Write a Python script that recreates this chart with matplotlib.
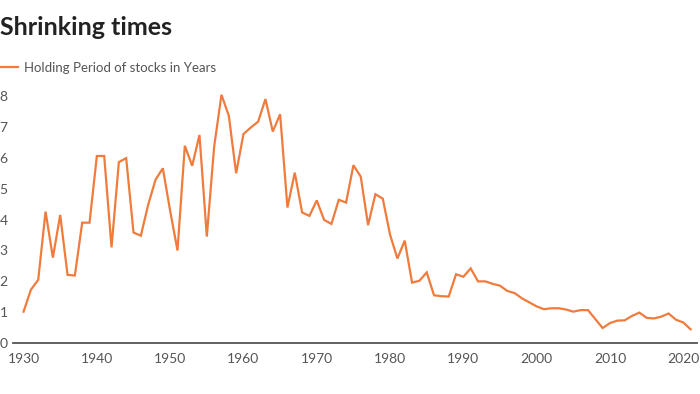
import matplotlib
matplotlib.use('Agg')
import matplotlib.pyplot as plt
from matplotlib.lines import Line2D

# Holding period of stocks, years
years = list(range(1930, 2022))
holding_years = [
    1.02, 1.73, 2.05, 4.26, 2.77, 4.15, 2.21, 2.19, 3.90, 3.90,   # 1930s
    6.06, 6.06, 3.10, 5.86, 5.99, 3.58, 3.48, 4.48, 5.29, 5.66,   # 1940s
    4.28, 3.00, 6.39, 5.74, 6.74, 3.45, 6.36, 8.04, 7.36, 5.50,   # 1950s
    6.77, 6.98, 7.17, 7.90, 6.85, 7.41, 4.39, 5.52, 4.23, 4.12,   # 1960s
    4.62, 3.99, 3.86, 4.64, 4.55, 5.76, 5.39, 3.82, 4.82, 4.68,   # 1970s
    3.51, 2.74, 3.32, 1.96, 2.02, 2.29, 1.55, 1.52, 1.51, 2.23,   # 1980s
    2.15, 2.42, 2.00, 2.00, 1.92, 1.86, 1.69, 1.62, 1.45, 1.32,   # 1990s
    1.19, 1.10, 1.13, 1.13, 1.09, 1.02, 1.07, 1.07, 0.78, 0.49,   # 2000s
    0.65, 0.73, 0.74, 0.88, 0.99, 0.82, 0.80, 0.86, 0.96, 0.76,   # 2010s
    0.67, 0.45,                                                   # 2020s
]
series_label = 'Holding Period of stocks in Years'
title = 'Shrinking times'
x_ticks = [1930, 1940, 1950, 1960, 1970, 1980, 1990, 2000, 2010, 2020]
y_ticks = [0, 1, 2, 3, 4, 5, 6, 7, 8]

line_color = '#ef7b3d'
text_color = '#555555'

plt.rcParams['font.family'] = ['Lato', 'DejaVu Sans']

fig = plt.figure(figsize=(7.0, 3.94), dpi=100)
ax = fig.add_axes([0.019, 0.129, 0.977, 0.643])

ax.plot(years, holding_years, color=line_color, linewidth=1.6,
        solid_joinstyle='miter')

ax.set_xlim(1928.6, 2021.9)
ax.set_ylim(0, 8.2)
ax.set_xticks(x_ticks)
ax.set_yticks(y_ticks)
ax.tick_params(axis='both', length=0, labelsize=10, labelcolor=text_color)
ax.tick_params(axis='x', pad=7)
ax.tick_params(axis='y', pad=4)

for side in ['top', 'right', 'left']:
    ax.spines[side].set_visible(False)
ax.spines['bottom'].set_color('#555555')
ax.spines['bottom'].set_linewidth(1.3)

fig.text(0.0, 0.93, title, fontsize=18, fontweight='bold', color='#222222',
         ha='left', va='center')

fig.legend(handles=[Line2D([], [], color=line_color, linewidth=1.6)],
           labels=[series_label], loc='center left',
           bbox_to_anchor=(-0.019, 0.828), frameon=False, fontsize=9.5,
           handlelength=1.5, handletextpad=0.45, labelcolor=text_color)

fig.savefig('out.png', dpi=100)
